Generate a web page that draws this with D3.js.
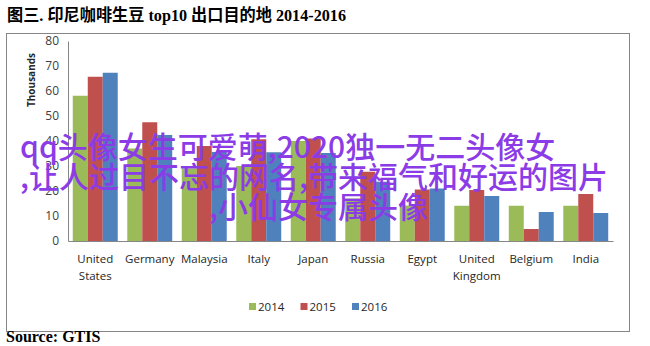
<!DOCTYPE html>
<html>
<head>
<meta charset="utf-8">
<script src="https://cdn.jsdelivr.net/npm/d3@7"></script>
<style>
  html, body { margin: 0; padding: 0; background: #fff; }
  svg { display: block; }
</style>
</head>
<body>
<svg id="chart" width="650" height="346"></svg>
<script>
// Indonesian green coffee bean exports, top 10 destinations (thousands)
const categories = ["United States", "Germany", "Malaysia", "Italy", "Japan",
                    "Russia", "Egypt", "United Kingdom", "Belgium", "India"];
const categoryLines = [["United", "States"], ["Germany"], ["Malaysia"], ["Italy"], ["Japan"],
                       ["Russia"], ["Egypt"], ["United", "Kingdom"], ["Belgium"], ["India"]];
const years = ["2014", "2015", "2016"];
const values2014 = [58.1, 37, 29, 30, 40, 17, 14.2, 14.1, 14.1, 14.1];
const values2015 = [65.7, 47.5, 38, 40.7, 41, 27.7, 20.6, 20.4, 4.8, 18.8];
const values2016 = [67.3, 42.4, 35.6, 35.5, 35.2, 23.7, 21, 18, 11.6, 11.2];
const yTicks = [0, 10, 20, 30, 40, 50, 60, 70, 80];
const colors = ["#9bbb59", "#c0504d", "#4f81bd"];
const series = [values2014, values2015, values2016];

const titleText = "图三. 印尼咖啡生豆 top10 出口目的地  2014-2016";
const sourceText = "Source: GTIS";
const overlayLines = ["qq头像女生可爱萌,2020独一无二头像女",
                      ",让人过目不忘的网名,带来福气和好运的图片",
                      ",小仙女专属头像"];

const svg = d3.select("#chart");
const sansFont = "'Open Sans', 'Noto Sans', sans-serif";

// Title
svg.append("text")
  .attr("x", 7).attr("y", 21)
  .attr("font-family", "'Liberation Serif', 'Noto Sans CJK SC', serif")
  .attr("font-weight", "bold")
  .attr("font-size", 16.5)
  .attr("textLength", 339)
  .attr("lengthAdjust", "spacingAndGlyphs")
  .attr("fill", "#000")
  .text(titleText);

// Chart frame
svg.append("rect")
  .attr("x", 6.5).attr("y", 33.5)
  .attr("width", 623).attr("height", 298)
  .attr("fill", "#fff")
  .attr("stroke", "#868686").attr("stroke-width", 1);

// Scales
const x0 = d3.scaleBand().domain(categories).range([68, 613])
  .paddingInner(0.175).paddingOuter(0.0875);
const x1 = d3.scaleBand().domain(years).range([0, x0.bandwidth()]).padding(0);
const y = d3.scaleLinear().domain([0, 80]).range([241, 41]);

// Bars
const groups = svg.append("g").selectAll("g")
  .data(categories).join("g")
  .attr("transform", d => `translate(${x0(d)},0)`);

groups.selectAll("rect")
  .data((d, i) => years.map((yr, s) => ({ yr, v: series[s][i], c: colors[s] })))
  .join("rect")
  .attr("x", d => x1(d.yr))
  .attr("width", x1.bandwidth())
  .attr("y", d => y(d.v))
  .attr("height", d => y(0) - y(d.v))
  .attr("fill", d => d.c);

// Y axis
const yAxis = svg.append("g")
  .attr("transform", "translate(68,0)")
  .call(d3.axisLeft(y).tickValues(yTicks).tickSize(0).tickPadding(9));
yAxis.select(".domain").attr("stroke", "#868686");
yAxis.selectAll("text")
  .attr("font-family", sansFont).attr("font-size", 12).attr("fill", "#404040");

// Y axis unit label
svg.append("text")
  .attr("transform", "translate(35,80) rotate(-90)")
  .attr("text-anchor", "middle")
  .attr("font-family", sansFont)
  .attr("font-weight", "bold")
  .attr("font-size", 10)
  .attr("fill", "#262626")
  .text("Thousands");

// X axis
const xAxis = svg.append("g")
  .attr("transform", `translate(0,${y(0)})`)
  .call(d3.axisBottom(x0).tickSize(0).tickFormat(""));
xAxis.select(".domain").attr("stroke", "#868686");

// Category labels (wrapped onto two lines where needed)
const labels = svg.append("g").selectAll("text")
  .data(categories).join("text")
  .attr("text-anchor", "middle")
  .attr("font-family", sansFont)
  .attr("font-size", 11.5)
  .attr("fill", "#262626");
labels.each(function (d, i) {
  const t = d3.select(this);
  categoryLines[i].forEach((line, k) => {
    t.append("tspan")
      .attr("x", x0(d) + x0.bandwidth() / 2)
      .attr("y", 263 + k * 17)
      .text(line);
  });
});

// Legend
const legend = svg.append("g").selectAll("g")
  .data(years).join("g")
  .attr("transform", (d, i) => `translate(${249 + i * 51.5},307)`);
legend.append("rect")
  .attr("x", 0).attr("y", -4).attr("width", 7).attr("height", 7)
  .attr("fill", (d, i) => colors[i]);
legend.append("text")
  .attr("x", 9).attr("y", 4)
  .attr("font-family", sansFont)
  .attr("font-size", 11.5)
  .attr("fill", "#262626")
  .text(d => d);

// Source note
svg.append("text")
  .attr("x", 6).attr("y", 342)
  .attr("font-family", "'Liberation Serif', serif")
  .attr("font-weight", "bold")
  .attr("font-size", 16)
  .attr("fill", "#000")
  .text(sourceText);

// Caption overlay
svg.append("g").selectAll("text")
  .data(overlayLines).join("text")
  .attr("x", (d, i) => i === 2 ? 209 : 20)
  .attr("y", (d, i) => 158 + i * 30)
  .attr("font-family", "'Noto Sans CJK SC', sans-serif")
  .attr("font-weight", 500)
  .attr("font-size", 30)
  .attr("fill", "#8b3ce6")
  .text(d => d);
</script>
</body>
</html>
